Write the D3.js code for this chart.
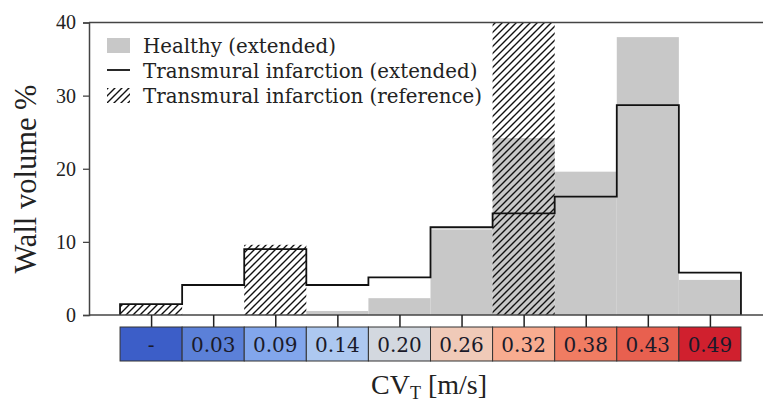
<!DOCTYPE html>
<html>
<head>
<meta charset="utf-8">
<script src="https://cdn.jsdelivr.net/npm/d3@7"></script>
<style>
  body { margin: 0; background: #fff; }
  svg text { font-family: "Liberation Serif", serif; }
  svg text.wide { font-family: "DejaVu Serif", serif; }
</style>
</head>
<body>
<svg id="chart" width="763" height="403"></svg>
<script>
// bins of CV_T
const binLabels = ["-", "0.03", "0.09", "0.14", "0.20", "0.26", "0.32", "0.38", "0.43", "0.49"];
const binColors = ["#3c5ec8", "#5b80d8", "#82a6ec", "#adc8f0", "#d3d8df", "#f0cab8", "#f8ac90", "#f07c62", "#e8604f", "#d0202e"];
// series (% wall volume)
const healthyExt = [0, 0, 0, 0.55, 2.3, 11.7, 24.2, 19.6, 38.0, 4.8];
const transmuralExt = [1.5, 4.1, 9.0, 4.1, 5.15, 12.0, 13.9, 16.2, 28.7, 5.8];
const transmuralRef = [1.4, 0, 9.6, 0, 0, 0, 41, 0, 0, 0];
const yTicks = [0, 10, 20, 30, 40];

const svg = d3.select("#chart");
const x = d3.scaleLinear().domain([-1, 10]).range([89, 772]);
const y = d3.scaleLinear().domain([0, 40]).range([315, 22.5]);
const bw = x(1) - x(0);

// hatch pattern
const defs = svg.append("defs");
const pat = defs.append("pattern")
  .attr("id", "hatch")
  .attr("patternUnits", "userSpaceOnUse")
  .attr("width", 7).attr("height", 7);
pat.append("path")
  .attr("d", "M-1,1 l2,-2 M0,7 l7,-7 M6,8 l2,-2")
  .attr("stroke", "#111").attr("stroke-width", 1.4);

defs.append("clipPath").attr("id", "plotclip")
  .append("rect").attr("x", 89).attr("y", 22.5).attr("width", 683).attr("height", 293);

const g = svg.append("g").attr("clip-path", "url(#plotclip)");

// healthy grey bars
g.selectAll(".healthy")
  .data(healthyExt)
  .enter().append("rect")
    .attr("class", "healthy")
    .attr("x", (d, i) => x(i - 0.5))
    .attr("width", bw)
    .attr("y", d => y(d))
    .attr("height", d => y(0) - y(d))
    .attr("fill", "#c8c8c8");

// reference hatched bars
g.selectAll(".ref")
  .data(transmuralRef)
  .enter().append("rect")
    .attr("class", "ref")
    .attr("x", (d, i) => x(i - 0.5))
    .attr("width", bw)
    .attr("y", d => y(d))
    .attr("height", d => y(0) - y(d))
    .attr("fill", "url(#hatch)");

// step outline
let pts = [[-0.5, 0]];
transmuralExt.forEach((v, i) => { pts.push([i - 0.5, v]); pts.push([i + 0.5, v]); });
pts.push([9.5, 0]);
g.append("path")
  .attr("d", d3.line().x(d => x(d[0])).y(d => y(d[1]))(pts))
  .attr("fill", "none")
  .attr("stroke", "#111")
  .attr("stroke-width", 1.8);

// spines
svg.append("line").attr("x1", 89).attr("x2", 763).attr("y1", y(40)).attr("y2", y(40))
  .attr("stroke", "#444").attr("stroke-width", 1.5);
svg.append("line").attr("x1", 89).attr("x2", 763).attr("y1", y(0)).attr("y2", y(0))
  .attr("stroke", "#444").attr("stroke-width", 1.5);

// y axis
const yAxis = svg.append("g")
  .attr("transform", "translate(89,0)")
  .call(d3.axisLeft(y).tickValues(yTicks).tickSize(6).tickPadding(7));
yAxis.select(".domain").attr("stroke", "#444").attr("stroke-width", 1.5);
yAxis.selectAll(".tick line").attr("stroke", "#444").attr("stroke-width", 1.3);
yAxis.selectAll("text").attr("font-size", 20).attr("fill", "#222")
  .style("font-family", "'Liberation Serif', serif");

// x ticks at bin centres
const xAxis = svg.append("g")
  .attr("transform", "translate(0," + y(0) + ")")
  .call(d3.axisBottom(x).tickValues(d3.range(10)).tickSize(12).tickFormat(""));
xAxis.select(".domain").remove();
xAxis.selectAll(".tick line").attr("stroke", "#222").attr("stroke-width", 1.5);

// colour strip
const strip = svg.append("g");
strip.selectAll("rect")
  .data(binLabels)
  .enter().append("rect")
    .attr("x", (d, i) => x(i - 0.5))
    .attr("y", 327)
    .attr("width", bw)
    .attr("height", 34)
    .attr("fill", (d, i) => binColors[i])
    .attr("stroke", "#333")
    .attr("stroke-width", 1);
strip.selectAll("text")
  .data(binLabels)
  .enter().append("text")
    .attr("class", "wide")
    .attr("x", (d, i) => x(i))
    .attr("y", 352)
    .attr("text-anchor", "middle")
    .attr("font-size", 20)
    .attr("fill", "#1a1a2a")
    .text(d => d);

// axis titles
svg.append("text")
  .attr("transform", "translate(36,179) rotate(-90)")
  .attr("text-anchor", "middle")
  .attr("font-size", 30.5)
  .attr("fill", "#222")
  .text("Wall volume %");

const xt = svg.append("text")
  .attr("x", 429).attr("y", 394)
  .attr("text-anchor", "middle")
  .attr("font-size", 28)
  .attr("fill", "#222");
xt.append("tspan").text("CV");
xt.append("tspan").attr("font-size", 18).attr("dy", 5).text("T");
xt.append("tspan").attr("dy", -5).text(" [m/s]");

// legend
const leg = svg.append("g");
leg.append("rect").attr("x", 107).attr("y", 38).attr("width", 23).attr("height", 15).attr("fill", "#c8c8c8");
leg.append("line").attr("x1", 107).attr("x2", 130).attr("y1", 70).attr("y2", 70)
  .attr("stroke", "#111").attr("stroke-width", 1.8);
leg.append("rect").attr("x", 107).attr("y", 88).attr("width", 23).attr("height", 15).attr("fill", "url(#hatch)");
const legLabels = ["Healthy (extended)", "Transmural infarction (extended)", "Transmural infarction (reference)"];
leg.selectAll("text")
  .data(legLabels)
  .enter().append("text")
    .attr("class", "wide")
    .attr("x", 143)
    .attr("y", (d, i) => 53 + i * 25)
    .attr("font-size", 19.8)
    .attr("fill", "#222")
    .text(d => d);
</script>
</body>
</html>
